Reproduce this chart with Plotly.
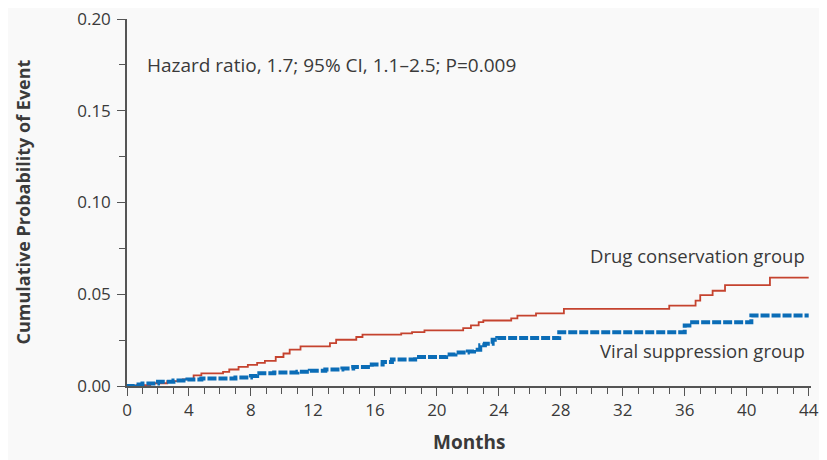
import plotly.graph_objects as go

# Drug conservation group (red step curve)
red_months = [0, 0.6, 1.5, 2.6, 3.6, 4.3, 4.8, 6.2, 6.6, 7.2, 7.8, 8.4, 8.9, 9.6, 10.1, 10.5, 11.2, 13.1, 13.5, 14.8,
              15.2, 17.7, 18.4, 19.2, 21.7, 22.2, 22.7, 23.0, 24.8, 25.2, 26.4, 28.2, 35.0, 36.7, 37.0, 37.8, 38.6, 41.5, 44]
red_values = [0, 0.0005, 0.0015, 0.0027, 0.0036, 0.0058, 0.0069, 0.0077, 0.009, 0.0104, 0.0115, 0.0126, 0.0137, 0.0158,
              0.0177, 0.0198, 0.0216, 0.0234, 0.0252, 0.0267, 0.028, 0.0287, 0.0294, 0.0303, 0.0315, 0.033, 0.0348,
              0.0357, 0.0369, 0.0384, 0.0396, 0.042, 0.0438, 0.0465, 0.0495, 0.0519, 0.055, 0.0591, 0.0591]

# Viral suppression group (blue step curve)
blue_months = [0, 0.5, 1.0, 2.0, 3.0, 3.9, 4.8, 7.0, 8.0, 8.4, 9.5, 11.0, 11.8, 12.8, 13.9, 14.6, 15.8, 16.5, 17.1,
               18.6, 20.6, 21.2, 22.0, 22.4, 22.8, 23.1, 23.6, 23.9, 27.9, 36.0, 36.3, 40.3, 44]
blue_values = [0, 0.0008, 0.0014, 0.0023, 0.003, 0.0036, 0.0041, 0.0047, 0.0054, 0.0069, 0.0074, 0.0077, 0.0083,
               0.009, 0.0095, 0.0104, 0.0117, 0.0131, 0.0144, 0.0158, 0.0171, 0.0182, 0.0188, 0.0198, 0.0222, 0.023,
               0.0252, 0.0261, 0.0293, 0.033, 0.0348, 0.0384, 0.0384]

x_ticks = [0, 4, 8, 12, 16, 20, 24, 28, 32, 36, 40, 44]
y_ticks = [0.0, 0.05, 0.10, 0.15, 0.20]
y_tick_labels = ["0.00", "0.05", "0.10", "0.15", "0.20"]

FONT = "'Open Sans', Lato, sans-serif"
TXT = "#3a3a3a"
AX = "#555555"

fig = go.Figure()
fig.add_trace(go.Scatter(x=red_months, y=red_values, mode="lines", line=dict(shape="hv", color="#c5432f", width=1.8),
                         showlegend=False, hoverinfo="skip"))
fig.add_trace(go.Scatter(x=blue_months, y=blue_values, mode="lines",
                         line=dict(shape="hv", color="#0b6db7", width=4, dash="9px,2px"),
                         showlegend=False, hoverinfo="skip"))

fig.update_layout(
    width=819, height=452, autosize=False,
    margin=dict(l=119, r=16, t=11, b=74, pad=0, autoexpand=False),
    paper_bgcolor="#f9f9f9", plot_bgcolor="#f9f9f9",
    font=dict(family=FONT, color=TXT, size=15),
    xaxis=dict(range=[0, 44.15], tickvals=x_ticks, ticktext=[str(v) for v in x_ticks], automargin=False,
               showgrid=False, zeroline=False, showline=True, linecolor=AX, linewidth=1.5,
               ticks="outside", ticklen=8, tickwidth=1.2, tickcolor=AX, ticklabeloverflow="allow",
               minor=dict(dtick=1, tick0=0, ticks="outside", ticklen=6, tickwidth=1, tickcolor=AX, showgrid=False),
               tickfont=dict(size=17, color=TXT, family=FONT)),
    yaxis=dict(range=[0, 0.2], tickvals=y_ticks, ticktext=y_tick_labels, automargin=False,
               showgrid=False, zeroline=False, showline=True, linecolor=AX, linewidth=1.5,
               ticks="outside", ticklen=8, tickwidth=1.2, tickcolor=AX, ticklabeloverflow="allow",
               ticklabelstandoff=3,
               minor=dict(dtick=0.025, tick0=0, ticks="outside", ticklen=6, tickwidth=1, tickcolor=AX, showgrid=False),
               tickfont=dict(size=17, color=TXT, family=FONT)),
)

# Axis titles
fig.add_annotation(x=0.5, y=0, xref="paper", yref="paper", xanchor="center", yanchor="middle", yshift=-56,
                   text="<b>Months</b>", showarrow=False, font=dict(size=19, color=TXT, family=FONT))
fig.add_annotation(x=0, y=0.5, xref="paper", yref="paper", xanchor="center", yanchor="middle", xshift=-105,
                   textangle=-90, text="<b>Cumulative Probability of Event</b>", showarrow=False,
                   font=dict(size=18, color=TXT, family=FONT))

fig.add_annotation(x=0, y=0.175, xref="x", yref="y", xanchor="left", yanchor="middle", xshift=18,
                   text="Hazard ratio, 1.7; 95% CI, 1.1–2.5; P=0.009", showarrow=False,
                   font=dict(size=19, color=TXT, family=FONT))
fig.add_annotation(x=44, y=0.0713, xref="x", yref="y", xanchor="right", yanchor="middle", xshift=-2,
                   text="Drug conservation group", showarrow=False, font=dict(size=18.5, color=TXT, family=FONT))
fig.add_annotation(x=44, y=0.0195, xref="x", yref="y", xanchor="right", yanchor="middle", xshift=-2,
                   text="Viral suppression group", showarrow=False, font=dict(size=18.5, color=TXT, family=FONT))

fig.write_html("out.html")
